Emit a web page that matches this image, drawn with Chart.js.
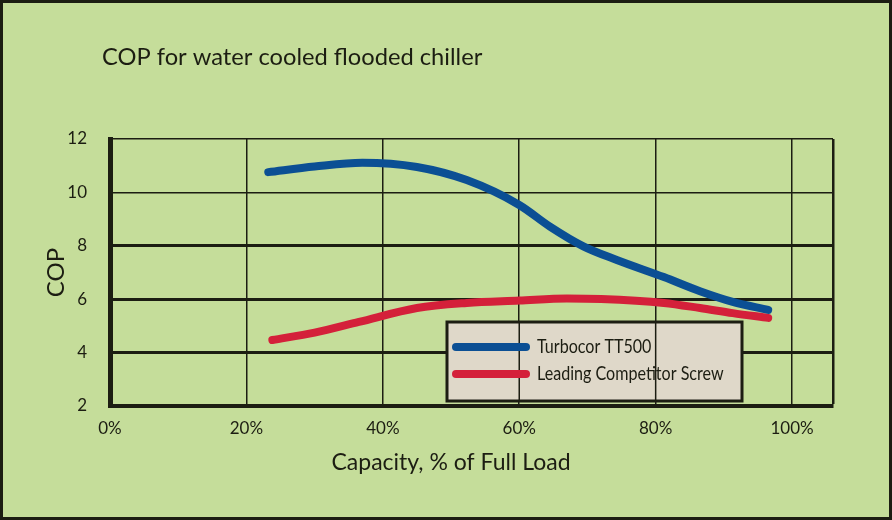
<!DOCTYPE html>
<html>
<head>
<meta charset="utf-8">
<script src="https://cdn.jsdelivr.net/npm/chart.js@4.4.1/dist/chart.umd.min.js"></script>
<style>
  html, body { margin: 0; padding: 0; background: #c5dd9a; }
  #wrap { width: 892px; height: 520px; position: relative; }
</style>
</head>
<body>
<div id="wrap"><canvas id="copChart" width="892" height="520"></canvas></div>
<script>
  // Data: capacity (% of full load) vs COP
  const seriesLabels  = ['Turbocor TT500', 'Leading Competitor Screw'];
  const turbocorLoad  = [23.2, 30, 37, 45, 52.3, 60, 64.5, 69.4, 74.3, 81.2, 86.5, 91.3, 96.5];
  const turbocorCOP   = [10.76, 10.97, 11.11, 10.95, 10.46, 9.53, 8.72, 7.98, 7.47, 6.83, 6.3, 5.9, 5.6];
  const screwLoad     = [23.8, 30, 36.5, 45, 52.3, 60, 67, 72, 81.2, 86.5, 91.3, 96.5];
  const screwCOP      = [4.47, 4.75, 5.15, 5.67, 5.86, 5.95, 6.03, 6.01, 5.86, 5.67, 5.48, 5.3];
  const xTickValues   = [0, 20, 40, 60, 80, 100];
  const yTickValues   = [2, 4, 6, 8, 10, 12];

  const BG   = '#c5dd9a';
  const INK  = '#1c1d12';
  const FONT = 'Lato';
  const seriesColors = ['#0b4f94', '#d4203a'];

  const toPoints = (xs, ys) => xs.map((x, i) => ({ x: x, y: ys[i] }));

  // background, outer frame and free text
  const framePlugin = {
    id: 'frame',
    beforeDraw(chart) {
      const { ctx, width, height } = chart;
      ctx.save();
      ctx.fillStyle = BG;
      ctx.fillRect(0, 0, width, height);
      ctx.restore();
    },
    afterDraw(chart) {
      const { ctx, width, height } = chart;
      ctx.save();
      ctx.strokeStyle = INK;
      ctx.lineWidth = 3;
      ctx.strokeRect(1.5, 1.5, width - 3, height - 3);
      ctx.fillStyle = INK;
      ctx.textBaseline = 'middle';
      ctx.font = '23.7px ' + FONT;
      ctx.textAlign = 'left';
      ctx.fillText('COP for water cooled flooded chiller', 102, 57);
      ctx.textAlign = 'center';
      ctx.font = '23px ' + FONT;
      ctx.fillText('Capacity, % of Full Load', 451, 463);
      ctx.restore();
    }
  };

  // boxed legend sitting inside the plot
  const legendBox = {
    id: 'legendBox',
    beforeDatasetsDraw(chart) {
      const { ctx, scales: { x } } = chart;
      const box = { l: 447, t: 322, r: 742, b: 401 };
      ctx.save();
      ctx.fillStyle = '#dfd8c9';
      ctx.fillRect(box.l, box.t, box.r - box.l, box.b - box.t);
      // thin verticals still show through the box
      ctx.strokeStyle = INK;
      ctx.lineWidth = 1.5;
      xTickValues.forEach(v => {
        const px = x.getPixelForValue(v);
        if (px > box.l && px < box.r) {
          ctx.beginPath();
          ctx.moveTo(px, box.t);
          ctx.lineTo(px, box.b);
          ctx.stroke();
        }
      });
      ctx.lineWidth = 3;
      ctx.strokeRect(box.l, box.t, box.r - box.l, box.b - box.t);
      chart.data.datasets.forEach((ds, i) => {
        const y = 347 + i * 27;
        ctx.strokeStyle = ds.borderColor;
        ctx.lineWidth = 8;
        ctx.lineCap = 'round';
        ctx.beginPath();
        ctx.moveTo(456, y);
        ctx.lineTo(526, y);
        ctx.stroke();
        // condensed label, like the original's narrow face
        ctx.save();
        ctx.translate(537, y);
        ctx.scale(0.87, 1);
        ctx.fillStyle = INK;
        ctx.font = '18.5px ' + FONT;
        ctx.textAlign = 'left';
        ctx.textBaseline = 'middle';
        ctx.fillText(ds.label, 0, 0);
        ctx.restore();
      });
      ctx.restore();
    }
  };

  const ctx = document.getElementById('copChart');
  const chart = new Chart(ctx, {
    type: 'line',
    data: {
      datasets: [
        {
          label: seriesLabels[0],
          data: toPoints(turbocorLoad, turbocorCOP),
          borderColor: seriesColors[0],
          borderWidth: 8,
          borderCapStyle: 'round',
          cubicInterpolationMode: 'monotone',
          pointRadius: 0,
          fill: false,
        },
        {
          label: seriesLabels[1],
          data: toPoints(screwLoad, screwCOP),
          borderColor: seriesColors[1],
          borderWidth: 8,
          borderCapStyle: 'round',
          cubicInterpolationMode: 'monotone',
          pointRadius: 0,
          fill: false,
        }
      ]
    },
    options: {
      responsive: false,
      animation: false,
      layout: { padding: { left: 0, top: 139, right: 59, bottom: 0 } },
      plugins: {
        legend: { display: false },
        title: { display: false },
        tooltip: { enabled: false }
      },
      scales: {
        x: {
          type: 'linear',
          min: 0,
          max: 106,
          afterBuildTicks: s => { s.ticks = xTickValues.concat([106]).map(v => ({ value: v })); },
          afterFit: s => { s.height = 114; },
          border: { color: INK, width: 4 },
          grid: {
            color: INK,
            drawTicks: false,
            lineWidth: c => (c.tick && c.tick.value === 106) ? 2.5 : 1.5
          },
          ticks: {
            color: INK,
            font: { family: FONT, size: 17 },
            padding: 12,
            maxRotation: 0,
            callback: v => v <= 100 ? v + '%' : ''
          }
        },
        y: {
          min: 2,
          max: 12,
          afterBuildTicks: s => { s.ticks = yTickValues.map(v => ({ value: v })); },
          afterFit: s => { s.width = 110; },
          border: { color: INK, width: 5 },
          grid: {
            color: INK,
            drawTicks: false,
            lineWidth: c => (c.tick && [4, 6, 8].includes(c.tick.value)) ? 3 : 1.5
          },
          ticks: {
            color: INK,
            font: { family: FONT, size: 17 },
            padding: 23
          },
          title: {
            display: true,
            text: 'COP',
            color: INK,
            font: { family: FONT, size: 24 },
            padding: { top: 42, bottom: 0 }
          }
        }
      }
    },
    plugins: [framePlugin, legendBox]
  });
</script>
</body>
</html>
